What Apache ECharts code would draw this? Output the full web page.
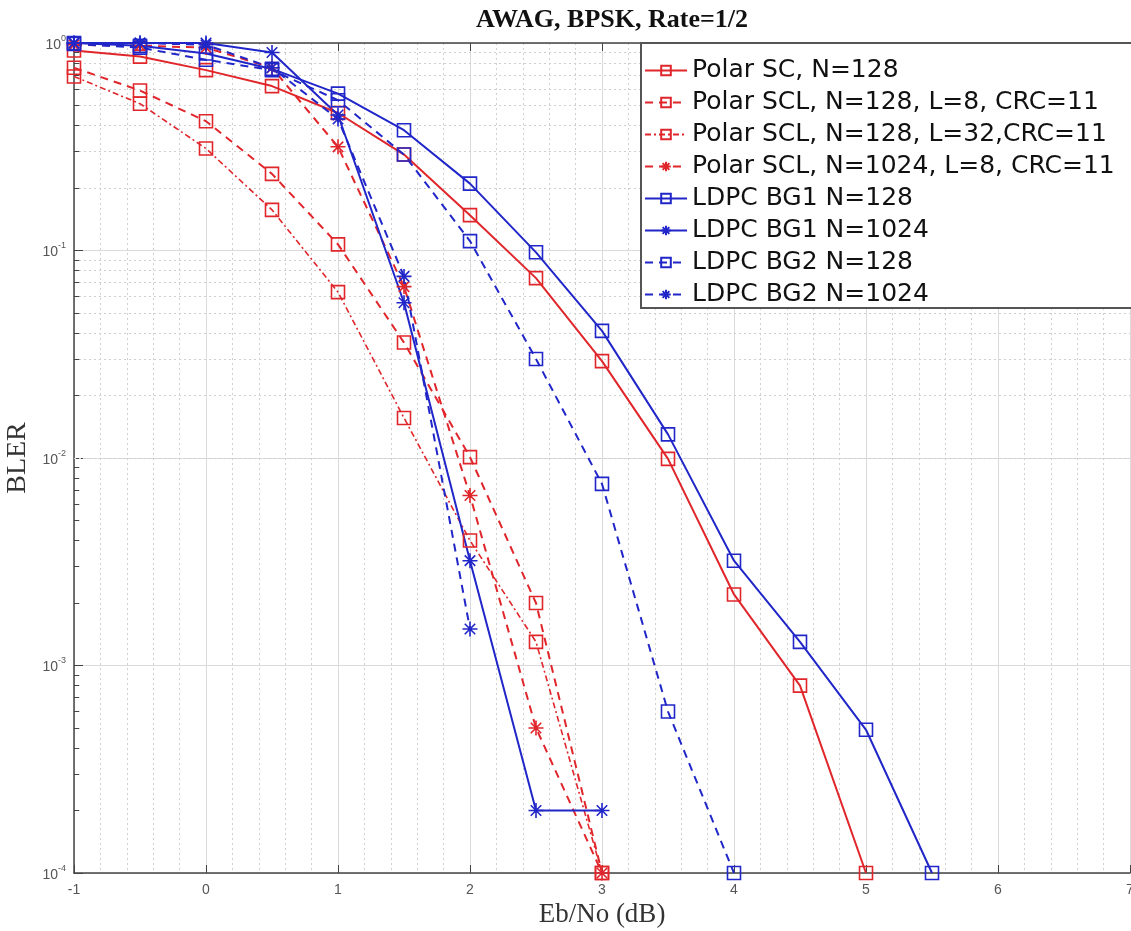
<!DOCTYPE html>
<html>
<head>
<meta charset="utf-8">
<script src="https://cdn.jsdelivr.net/npm/echarts@6/dist/echarts.min.js"></script>
<style>
  html, body { margin: 0; padding: 0; background: #fff; }
  #chart { width: 1131px; height: 931px; }
</style>
</head>
<body>
<div id="chart"></div>
<script>
// Eb/No values (dB)
const ebno = [-1, -0.5, 0, 0.5, 1, 1.5, 2, 2.5, 3, 3.5, 4, 4.5, 5, 5.5];

// BLER
const polarSC128 = [0.92, 0.86, 0.74, 0.62, 0.46, 0.29, 0.148, 0.0736, 0.0293, 0.0099, 0.0022, 0.0008, 0.0001];
const polarSCL128L8 = [0.76, 0.59, 0.42, 0.234, 0.107, 0.036, 0.0101, 0.002, 0.0001];
const polarSCL128L32 = [0.69, 0.51, 0.31, 0.157, 0.063, 0.0156, 0.004, 0.0013, 0.0001];
const polarSCL1024L8 = [0.98, 0.97, 0.95, 0.76, 0.316, 0.067, 0.0066, 0.0005, 0.0001];
const ldpcBG1n128 = [1.0, 0.97, 0.89, 0.75, 0.57, 0.38, 0.21, 0.098, 0.041, 0.013, 0.0032, 0.0013, 0.00049, 0.0001];
const ldpcBG1n1024 = [1.0, 1.0, 1.0, 0.9, 0.45, 0.056, 0.0032, 0.0002, 0.0002];
const ldpcBG2n128 = [0.99, 0.95, 0.83, 0.74, 0.53, 0.29, 0.111, 0.030, 0.0075, 0.0006, 0.0001];
const ldpcBG2n1024 = [1.0, 1.0, 0.98, 0.76, 0.43, 0.075, 0.0015];

const seriesNames = [
  'Polar SC, N=128',
  'Polar SCL, N=128, L=8, CRC=11',
  'Polar SCL, N=128, L=32,CRC=11',
  'Polar SCL, N=1024, L=8, CRC=11',
  'LDPC BG1 N=128',
  'LDPC BG1 N=1024',
  'LDPC BG2 N=128',
  'LDPC BG2 N=1024'
];

// log minor grid positions (2..9 in each decade)
const minorY = [];
for (let e = -4; e < 0; e++) {
  for (let m = 2; m <= 9; m++) minorY.push(m * Math.pow(10, e));
}

const RED = '#e0262b';
const BLUE = '#2026c8';
const SQUARE = 'path://M0,0L10,0L10,10L0,10Z';
const STAR = 'path://M5,0L5,10M0,5L10,5M1.5,1.5L8.5,8.5M1.5,8.5L8.5,1.5';

function pairs(vals) {
  return vals.map((v, i) => [ebno[i], v]);
}

function mkSeries(name, vals, color, symbol, lineType, width) {
  return {
    name: name,
    type: 'line',
    data: pairs(vals),
    symbol: symbol,
    symbolSize: symbol === STAR ? 15 : 13,
    showAllSymbol: true,
    lineStyle: { color: color, width: width, type: lineType },
    itemStyle: { color: 'rgba(0,0,0,0)', borderColor: color, borderWidth: 1.6 },
    z: 3
  };
}

const chart = echarts.init(document.getElementById('chart'));

chart.setOption({
  animation: false,
  backgroundColor: '#fff',
  title: {
    text: 'AWAG, BPSK, Rate=1/2',
    left: 607,
    textAlign: 'center',
    top: 2,
    textStyle: { fontFamily: 'Liberation Serif', fontWeight: 'bold', fontSize: 26, color: '#111' }
  },
  grid: { left: 74, right: 1, top: 43, bottom: 58, outerBoundsMode: 'none' },
  legend: {
    data: seriesNames,
    orient: 'vertical',
    left: 641,
    top: 43,
    z: 20,
    backgroundColor: '#fff',
    borderColor: '#555',
    borderWidth: 2,
    borderRadius: 0,
    padding: [14, 120, 0, 3],
    itemGap: 5,
    itemWidth: 42,
    itemHeight: 12,
    textStyle: { fontFamily: 'DejaVu Sans', fontSize: 25, color: '#111', lineHeight: 27 }
  },
  xAxis: [
    {
      type: 'value',
      min: -1,
      max: 7,
      interval: 1,
      name: 'Eb/No (dB)',
      nameLocation: 'middle',
      nameGap: 5,
      nameTextStyle: { fontFamily: 'Liberation Serif', fontSize: 27, color: '#333' },
      axisLine: { show: true, onZero: false, lineStyle: { color: '#444', width: 1.5 } },
      axisTick: { show: true, inside: true, length: 8, lineStyle: { color: '#444' } },
      axisLabel: { fontFamily: 'Liberation Sans', fontSize: 14, color: '#555', margin: 10 },
      splitLine: { show: true, lineStyle: { color: '#dadada', width: 1 } },
      minorTick: { show: false, splitNumber: 5 },
      minorSplitLine: { show: true, lineStyle: { color: '#d0d0d0', type: [2, 3], width: 1 } }
    },
    {
      type: 'value',
      min: -1,
      max: 7,
      interval: 1,
      position: 'top',
      axisLine: { show: true, onZero: false, lineStyle: { color: '#444', width: 1.5 } },
      axisTick: { show: true, inside: true, length: 8, lineStyle: { color: '#444' } },
      axisLabel: { show: false },
      splitLine: { show: false }
    }
  ],
  yAxis: {
    type: 'log',
    logBase: 10,
    min: 1e-4,
    max: 1,
    interval: 1,
    name: 'BLER',
    nameLocation: 'middle',
    nameGap: 26,
    nameTextStyle: { fontFamily: 'Liberation Serif', fontSize: 28, color: '#333' },
    axisLine: { show: true, onZero: false, lineStyle: { color: '#444', width: 1.5 } },
    axisTick: { show: true, inside: true, length: 9, lineStyle: { color: '#444' } },
    axisLabel: {
      margin: 8,
      formatter: function (v) {
        return '{b|10}{s|' + Math.round(Math.log10(v)) + '}';
      },
      rich: {
        b: { fontFamily: 'Liberation Sans', fontSize: 14, color: '#555', lineHeight: 18, verticalAlign: 'bottom' },
        s: { fontFamily: 'Liberation Sans', fontSize: 9, color: '#555', lineHeight: 18, verticalAlign: 'top', padding: [0, 0, 8, 0] }
      }
    },
    splitLine: { show: true, lineStyle: { color: '#dadada', width: 1 } }
  },
  series: [
    {
      name: 'minor-grid',
      type: 'line',
      data: [],
      z: 1,
      silent: true,
      markLine: {
        z: 1,
        silent: true,
        symbol: ['none', 'none'],
        label: { show: false },
        animation: false,
        lineStyle: { color: '#cfcfcf', type: [2, 3], width: 1 },
        emphasis: { disabled: true },
        data: minorY.map(v => ({ yAxis: v }))
      }
    },
    {
      name: 'minor-ticks',
      type: 'line',
      data: [],
      z: 2,
      silent: true,
      markLine: {
        z: 2,
        silent: true,
        symbol: ['none', 'none'],
        label: { show: false },
        animation: false,
        lineStyle: { color: '#444', type: 'solid', width: 1 },
        emphasis: { disabled: true },
        data: minorY.map(v => [{ coord: [-1, v] }, { coord: [-0.96, v] }])
      }
    },
    mkSeries(seriesNames[0], polarSC128, RED, SQUARE, 'solid', 2),
    mkSeries(seriesNames[1], polarSCL128L8, RED, SQUARE, [8, 6], 2),
    mkSeries(seriesNames[2], polarSCL128L32, RED, SQUARE, [6, 3, 2, 3], 1.6),
    mkSeries(seriesNames[3], polarSCL1024L8, RED, STAR, [8, 6], 2),
    mkSeries(seriesNames[4], ldpcBG1n128, BLUE, SQUARE, 'solid', 2),
    mkSeries(seriesNames[5], ldpcBG1n1024, BLUE, STAR, 'solid', 2),
    mkSeries(seriesNames[6], ldpcBG2n128, BLUE, SQUARE, [8, 6], 2),
    mkSeries(seriesNames[7], ldpcBG2n1024, BLUE, STAR, [8, 6], 2)
  ]
});
</script>
</body>
</html>
